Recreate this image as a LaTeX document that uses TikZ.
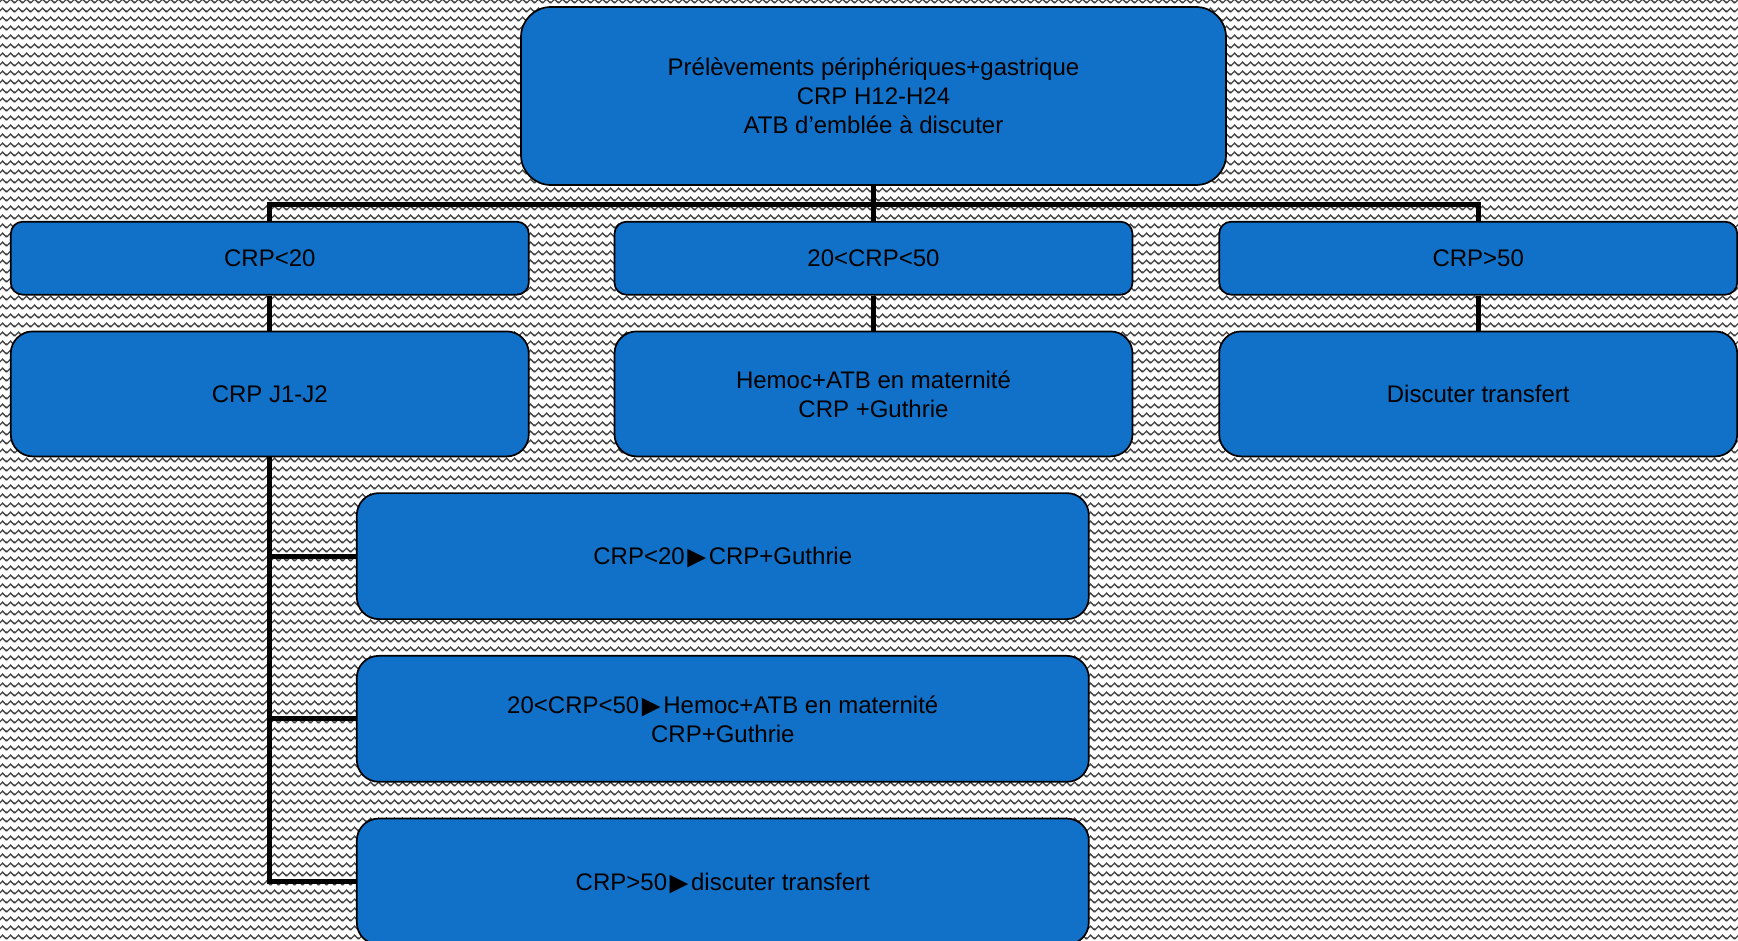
\documentclass[tikz,border=0pt]{standalone}
\usepackage{fontspec}
\setmainfont{Liberation Sans}
\usetikzlibrary{positioning, patterns}
\definecolor{boxblue}{RGB}{17,112,199}
\newcommand{\fleche}{\makebox[1em]{\smash{\raisebox{-3pt}{\scalebox{1.3}{►}}}}}
\pgfdeclarepatternformonly{zigzag}{\pgfqpoint{0pt}{0pt}}{\pgfqpoint{8pt}{9pt}}{\pgfqpoint{8pt}{9pt}}{
  \pgfsetlinewidth{1.5pt}
  \pgfpathmoveto{\pgfqpoint{-4pt}{6.5pt}}
  \pgfpathlineto{\pgfqpoint{0pt}{2.5pt}}
  \pgfpathlineto{\pgfqpoint{4pt}{6.5pt}}
  \pgfpathlineto{\pgfqpoint{8pt}{2.5pt}}
  \pgfpathlineto{\pgfqpoint{12pt}{6.5pt}}
  \pgfusepath{stroke}
}
\tikzset{
  every node/.style={text=black, draw=black, fill=boxblue, font=\fontsize{24}{29}\selectfont, line width=0.6mm, align=center},
  every path/.style={line width=1.8mm}
}

\begin{document}
\begin{tikzpicture}[node distance=35pt, auto]
  % Background
  \useasboundingbox (0,0) rectangle (1738pt,-941pt);
  \fill[white] (0,0) rectangle (1738pt,-941pt);
  \fill[pattern=zigzag, pattern color=gray!55!black] (0,0) rectangle (1738pt,-941pt);

  % Nodes
  \node (prelev) at (873.5pt,-96pt) [minimum width=705pt, minimum height=178pt, rounded corners=30pt] {
    Prélèvements périphériques+gastrique\\
    CRP H12-H24\\
    ATB d’emblée à discuter
  };
  \node (crpmid) [below=35pt of prelev, minimum width=518pt, minimum height=73pt, rounded corners=12pt] {20<CRP<50};
  \node (crplow) [left=84pt of crpmid, minimum width=518pt, minimum height=73pt, rounded corners=12pt] {CRP<20};
  \node (crphigh) [right=85pt of crpmid, minimum width=518pt, minimum height=73pt, rounded corners=12pt] {CRP>50};

  \node (hemoc) [below=35pt of crpmid, minimum width=518pt, minimum height=125pt, rounded corners=22pt] {
    Hemoc+ATB en maternité\\
    CRP +Guthrie
  };
  \node (jcrp) [below=35pt of crplow, minimum width=518pt, minimum height=125pt, rounded corners=22pt] {CRP J1-J2};
  \node (transf) [below=35pt of crphigh, minimum width=518pt, minimum height=125pt, rounded corners=22pt] {Discuter transfert};

  \node (suitelow) [below=35pt of jcrp, xshift=453pt, minimum width=732pt, minimum height=126pt, rounded corners=22pt] {CRP<20\fleche CRP+Guthrie};
  \node (suitemid) [below=35pt of suitelow, minimum width=732pt, minimum height=126pt, rounded corners=22pt] {
    20<CRP<50\fleche Hemoc+ATB en maternité\\
    CRP+Guthrie
  };
  \node (suitehigh) [below=35pt of suitemid, minimum width=732pt, minimum height=126pt, rounded corners=22pt] {CRP>50\fleche discuter transfert};

  \draw (prelev) -- (crpmid);
  \draw (prelev.south) -- ++(0,-19pt) -| (crplow.north);
  \draw (prelev.south) -- ++(0,-19pt) -| (crphigh.north);
  \draw (crplow) -- (jcrp);
  \draw (crpmid) -- (hemoc);
  \draw (crphigh) -- (transf);
  \draw (jcrp.south) |- (suitelow.west);
  \draw (jcrp.south) |- (suitemid.west);
  \draw (jcrp.south) |- (suitehigh.west);
\end{tikzpicture}
\end{document}
